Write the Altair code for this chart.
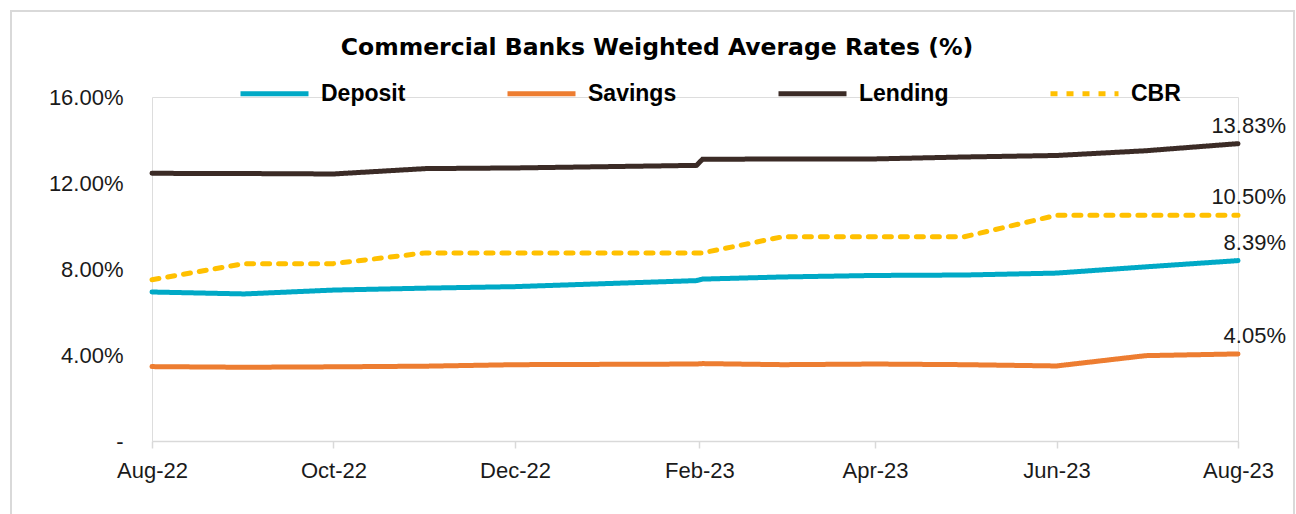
import altair as alt
import pandas as pd

# ---- data ----
dates = ["2022-08-01", "2022-09-01", "2022-10-01", "2022-11-01", "2022-12-01",
         "2023-01-31", "2023-02-02", "2023-03-01", "2023-04-01", "2023-05-01",
         "2023-06-01", "2023-07-01", "2023-08-01"]
series_names = ["Deposit", "Savings", "Lending", "CBR"]
deposit = [6.93, 6.84, 7.02, 7.11, 7.18, 7.46, 7.53, 7.63, 7.70, 7.72, 7.81, 8.10, 8.39]
savings = [3.46, 3.43, 3.45, 3.48, 3.55, 3.58, 3.60, 3.55, 3.58, 3.55, 3.49, 3.97, 4.05]
lending = [12.45, 12.44, 12.42, 12.67, 12.70, 12.82, 13.10, 13.12, 13.12, 13.21, 13.28, 13.50, 13.83]
cbr = [7.50, 8.25, 8.25, 8.75, 8.75, 8.75, 8.75, 9.50, 9.50, 9.50, 10.50, 10.50, 10.50]
tick_dates = ["2022-08-01", "2022-10-01", "2022-12-01", "2023-02-01",
              "2023-04-01", "2023-06-01", "2023-08-01"]
y_ticks = [0, 4, 8, 12, 16]
colors = ["#00A9C6", "#ED7D31", "#3B2B26", "#FFC000"]
dashes = [[1, 0], [1, 0], [1, 0], [7, 9]]
title_text = "Commercial Banks Weighted Average Rates (%)"

all_values = [deposit, savings, lending, cbr]
rows = []
for name, vals in zip(series_names, all_values):
    for d, v in zip(dates, vals):
        rows.append({"date": d, "series": name, "value": v})
df = pd.DataFrame(rows)
last = pd.DataFrame([{"date": dates[-1], "series": n, "value": v[-1]}
                     for n, v in zip(series_names, all_values)])


def dt(s):
    t = pd.Timestamp(s)
    return alt.DateTime(year=t.year, month=t.month, date=t.day, utc=True)


FONT = "Liberation Sans"
x_enc = alt.X(
    "date:T",
    scale=alt.Scale(type="utc", domain=[dt(dates[0]), dt(dates[-1])], nice=False),
    axis=alt.Axis(
        values=[dt(s) for s in tick_dates],
        labelExpr="utcFormat(datum.value, '%b-%y')",
        title=None, grid=False,
        domainColor="#d9d9d9", domainWidth=1.5,
        tickColor="#d9d9d9", tickWidth=1.5, tickSize=7,
        labelFont=FONT, labelFontSize=22, labelColor="#1a1a1a",
        labelPadding=12, labelFlush=False, labelOverlap=False,
    ),
)
y_enc = alt.Y(
    "value:Q",
    scale=alt.Scale(domain=[0, 16], nice=False),
    axis=alt.Axis(
        values=y_ticks, title=None, grid=False, domain=False, ticks=False,
        labelExpr="datum.value == 0 ? '-\u00a0' : format(datum.value, '.2f') + '%'",
        labelFont=FONT, labelFontSize=22, labelColor="#1a1a1a", labelPadding=29,
    ),
)
legend = alt.Legend(
    title=None, orient="none", legendX=86, legendY=-40,
    direction="horizontal", columns=4, columnPadding=91,
    symbolType="stroke", symbolSize=4624, symbolStrokeWidth=5,
    labelFont=FONT, labelFontSize=23, labelFontWeight="bold", labelColor="#000000",
    labelOffset=10,
)

lines = alt.Chart(df).mark_line(strokeWidth=5, strokeCap="round").encode(
    x=x_enc,
    y=y_enc,
    color=alt.Color("series:N", scale=alt.Scale(domain=series_names, range=colors),
                    legend=legend, title=None),
    strokeDash=alt.StrokeDash("series:N", scale=alt.Scale(domain=series_names, range=dashes),
                              legend=legend, title=None),
    order=alt.Order("date:T"),
)

labels = alt.Chart(last).transform_calculate(
    lab="format(datum.value, '.2f') + '%'"
).mark_text(
    align="right", baseline="alphabetic", dx=48, dy=-11,
    font=FONT, fontSize=22, color="#1a1a1a",
).encode(
    x=alt.X("date:T"),
    y=alt.Y("value:Q"),
    text="lab:N",
)

frame = alt.Chart(alt.Data(values=[{"k": 1}])).mark_rect(
    fillOpacity=0, stroke="#d9d9d9", strokeWidth=2,
).encode(
    x=alt.value(-141), x2=alt.value(1142), y=alt.value(-86), y2=alt.value(440),
)

title = alt.Chart(alt.Data(values=[{"t": title_text}])).mark_text(
    font="DejaVu Sans", fontSize=23.5, fontWeight="bold", color="#000000",
    align="center", baseline="middle",
).encode(
    x=alt.value(505), y=alt.value(-49), text="t:N",
)

chart = alt.layer(frame, title, lines, labels).properties(
    width=1086, height=344,
    autosize=alt.AutoSizeParams(type="none"),
    padding={"left": 152, "top": 97, "right": 58, "bottom": 73},
).configure_view(stroke="transparent").configure(background="white")

chart.save("out.html", embed_options={"renderer": "svg", "actions": False})
